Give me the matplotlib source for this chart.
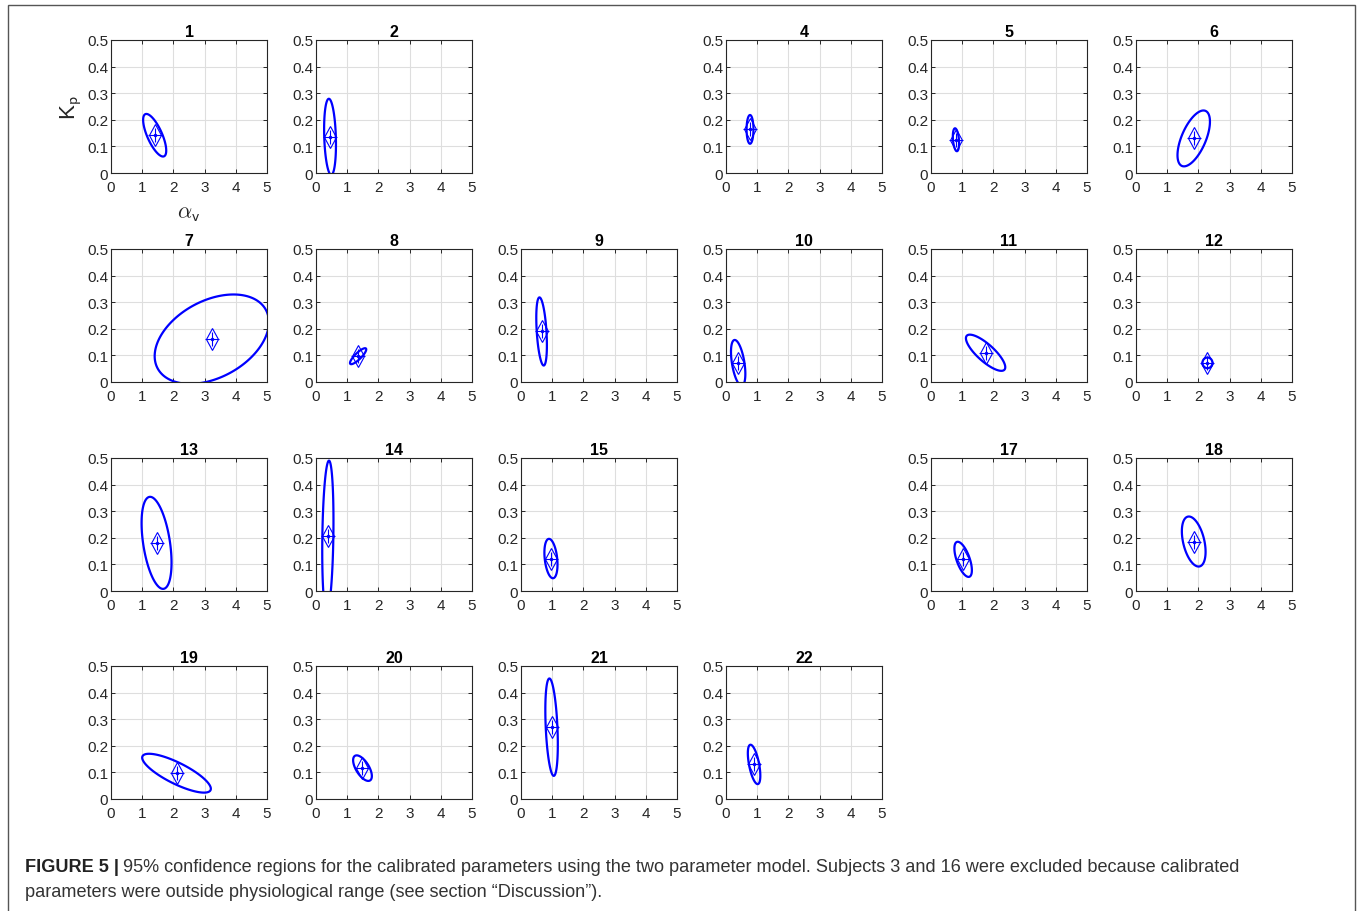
import numpy as np
import matplotlib.pyplot as plt
from matplotlib.patches import Rectangle, Polygon
from matplotlib.ticker import FuncFormatter

plt.rcParams['font.family'] = ['Liberation Sans', 'DejaVu Sans']
plt.rcParams['mathtext.fontset'] = 'cm'

# subjects shown (3 and 16 excluded)
subjects = [1, 2, 4, 5, 6, 7, 8, 9, 10, 11, 12, 13, 14, 15, 17, 18, 19, 20, 21, 22]
# calibrated estimates (alpha_v, K_p)
alpha_v = [1.40, 0.45, 0.77, 0.80, 1.85, 3.23, 1.35, 0.66, 0.39, 1.75, 2.29,
           1.46, 0.38, 0.96, 1.03, 1.85, 2.10, 1.49, 0.98, 0.90]
k_p = [0.142, 0.136, 0.164, 0.125, 0.130, 0.161, 0.097, 0.190, 0.072, 0.110, 0.072,
       0.181, 0.206, 0.122, 0.119, 0.186, 0.097, 0.116, 0.270, 0.130]
# 95% region: half-extent in alpha_v, half-extent in K_p, correlation
half_alpha = [0.37, 0.19, 0.11, 0.10, 0.52, 1.83, 0.26, 0.17, 0.23, 0.63, 0.16,
              0.48, 0.18, 0.21, 0.28, 0.38, 1.10, 0.30, 0.20, 0.20]
half_k = [0.080, 0.143, 0.054, 0.043, 0.105, 0.168, 0.030, 0.128, 0.086, 0.068, 0.020,
          0.173, 0.284, 0.074, 0.066, 0.094, 0.073, 0.048, 0.183, 0.074]
corr = [-0.72, -0.20, 0.0, -0.30, 0.60, 0.38, 0.85, -0.40, -0.48, -0.80, 0.0,
        -0.43, 0.20, -0.30, -0.62, -0.41, -0.80, -0.62, -0.35, -0.57]

x_ticks = [0, 1, 2, 3, 4, 5]
y_ticks = [0, 0.1, 0.2, 0.3, 0.4, 0.5]

W, H = 1357, 912
fig = plt.figure(figsize=(W / 100, H / 100), dpi=100)

col_left = [111, 316, 521, 726, 931, 1136]
row_top = [41, 250, 459, 667]
aw, ah = 156, 133
dark = '#262626'

fmt = FuncFormatter(lambda v, p: ('%g' % round(v, 2)))

t = np.linspace(0, 2 * np.pi, 400, endpoint=False)
for i, s in enumerate(subjects):
    r, c = (s - 1) // 6, (s - 1) % 6
    ax = fig.add_axes([col_left[c] / W, 1 - (row_top[r] + ah) / H, aw / W, ah / H])
    xe = alpha_v[i] + half_alpha[i] * np.cos(t)
    ye = k_p[i] + half_k[i] * (corr[i] * np.cos(t) + np.sqrt(1 - corr[i] ** 2) * np.sin(t))
    ax.add_patch(Polygon(np.column_stack([xe, ye]), closed=True, fill=False,
                         ec='#0000ff', lw=1.6))
    ax.plot(alpha_v[i], k_p[i], marker='d', ms=11, mfc='none', mec='#0000ff', mew=0.8)
    ax.plot(alpha_v[i], k_p[i], marker='+', ms=10, color='#0000ff', mew=0.8)
    ax.plot(alpha_v[i], k_p[i], marker='.', ms=3, color='#0000ff')
    ax.set_xlim(0, 5)
    ax.set_ylim(0, 0.5)
    ax.set_xticks(x_ticks)
    ax.set_yticks(y_ticks)
    ax.xaxis.set_major_formatter(fmt)
    ax.yaxis.set_major_formatter(fmt)
    ax.grid(True, color='#dedede', lw=0.8)
    ax.set_axisbelow(True)
    ax.tick_params(direction='in', length=3, width=0.7, top=True, right=True,
                   labelsize=11, colors=dark)
    ax.tick_params(axis='x', pad=5)
    ax.tick_params(axis='y', pad=2)
    for sp in ax.spines.values():
        sp.set_color(dark)
        sp.set_linewidth(0.8)
    ax.set_title(str(s), fontsize=11.5, fontweight='bold', pad=3)
    if s == 1:
        ax.set_ylabel(r'K$_{\mathsf{p}}$', fontsize=16, color=dark, labelpad=2)
        ax.set_xlabel(r'$\alpha_{\mathsf{v}}$', fontsize=16, color=dark, labelpad=6)

# caption
cap1 = fig.text(25 / W, 1 - 872 / H, 'FIGURE 5 |', fontsize=13.1, fontweight='bold',
                color='#222222', va='baseline')
fig.add_artist(plt.Annotation(
    '95% confidence regions for the calibrated parameters using the two parameter model. '
    'Subjects 3 and 16 were excluded because calibrated',
    xy=(1, 0), xycoords=cap1, xytext=(3, 0), textcoords='offset points',
    fontsize=13.1, color='#333333', va='bottom'))
fig.text(25 / W, 1 - 897 / H,
         'parameters were outside physiological range (see section \u201cDiscussion\u201d).',
         fontsize=13.1, color='#333333', va='baseline')

# frame around the figure
fig.add_artist(Rectangle((8 / W, -0.01), (1355 - 8) / W, 1.01 - 6 / H,
                         transform=fig.transFigure, fill=False, ec='#555555', lw=1))

fig.savefig('out.png', dpi=100)
